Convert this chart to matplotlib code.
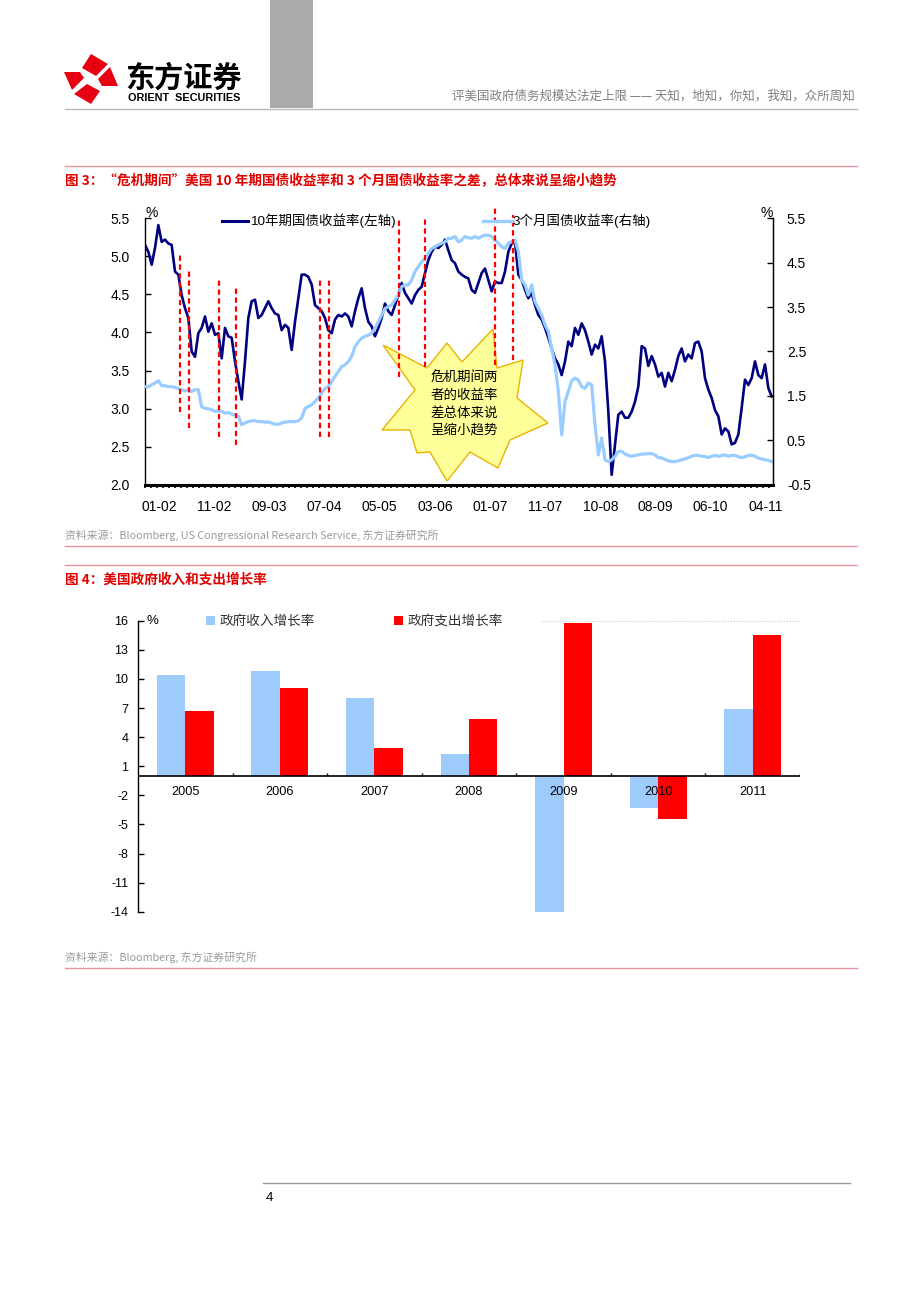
import numpy as np
import matplotlib
matplotlib.use('Agg')
import matplotlib.pyplot as plt
from matplotlib.lines import Line2D
from matplotlib.patches import Polygon, Rectangle

plt.rcParams['font.family'] = ['Liberation Sans', 'Noto Sans CJK SC', 'DejaVu Sans']
plt.rcParams['axes.unicode_minus'] = False

# ---------------- data: chart 1 (weekly-ish samples, Jan 2002 - Jun 2011) ----------------
ten_year = [
    5.15, 5.06, 4.89, 5.11, 5.41, 5.19, 5.22, 5.17, 5.15, 4.80,
    4.76, 4.49, 4.32, 4.19, 3.75, 3.68, 3.99, 4.06, 4.21, 4.01,
    4.12, 3.97, 3.99, 3.66, 4.06, 3.95, 3.93, 3.62, 3.36, 3.12,
    3.62, 4.19, 4.41, 4.43, 4.19, 4.23, 4.32, 4.41, 4.32, 4.25,
    4.23, 4.03, 4.10, 4.06, 3.77, 4.14, 4.45, 4.76, 4.76, 4.73,
    4.63, 4.36, 4.32, 4.28, 4.19, 4.03, 3.99, 4.17, 4.23, 4.21,
    4.25, 4.21, 4.08, 4.28,
    4.45, 4.58, 4.32, 4.14, 4.08, 3.95, 4.06, 4.19, 4.38, 4.28,
    4.23, 4.36, 4.49, 4.65, 4.52, 4.45, 4.38, 4.49, 4.56, 4.60,
    4.78, 4.95, 5.06, 5.13, 5.11, 5.15, 5.22, 5.08, 4.95, 4.91,
    4.80, 4.76, 4.73, 4.71, 4.56, 4.52, 4.65, 4.78, 4.84, 4.69,
    4.54, 4.67, 4.65, 4.65, 4.80, 5.06, 5.17, 5.19, 4.76, 4.69,
    4.56, 4.45, 4.52, 4.36, 4.23, 4.17, 4.06, 3.93, 3.79, 3.66,
    3.58, 3.44,
    3.62, 3.88, 3.82, 4.06, 3.97, 4.12, 4.03, 3.88, 3.71, 3.84,
    3.79, 3.95, 3.62, 2.96, 2.13, 2.53, 2.92, 2.96, 2.88, 2.88,
    2.96, 3.09, 3.29, 3.82, 3.79, 3.56, 3.69, 3.58, 3.42, 3.47,
    3.29, 3.47, 3.36, 3.51, 3.69, 3.79, 3.62, 3.71, 3.66, 3.86,
    3.88, 3.75, 3.40, 3.25, 3.14, 2.98, 2.90, 2.66, 2.74, 2.70,
    2.53, 2.55, 2.66, 3.01, 3.38, 3.31, 3.40, 3.62, 3.44, 3.40,
    3.58, 3.27, 3.16,
]
three_month = [
    1.71, 1.71, 1.75, 1.79, 1.84, 1.73, 1.73, 1.71, 1.71, 1.69,
    1.67, 1.64, 1.61, 1.64, 1.60, 1.64, 1.64, 1.26, 1.22, 1.21,
    1.19, 1.15, 1.16, 1.15, 1.11, 1.13, 1.09, 1.07, 1.04, 0.85,
    0.89, 0.92, 0.94, 0.94, 0.92, 0.92, 0.91, 0.91, 0.89, 0.86,
    0.86, 0.89, 0.91, 0.92, 0.92, 0.92, 0.94, 1.00, 1.22, 1.26,
    1.30, 1.37, 1.45, 1.56, 1.67, 1.71, 1.82, 1.94, 2.05, 2.16,
    2.20, 2.27, 2.39, 2.61,
    2.72, 2.80, 2.84, 2.87, 2.91, 3.02, 3.17, 3.32, 3.47, 3.51,
    3.55, 3.66, 3.77, 3.96, 4.00, 4.00, 4.11, 4.30, 4.41, 4.52,
    4.60, 4.71, 4.82, 4.86, 4.90, 4.94, 4.97, 5.05, 5.05, 5.09,
    4.97, 5.01, 5.09, 5.06, 5.05, 5.09, 5.05, 5.09, 5.12, 5.12,
    5.09, 5.01, 4.94, 4.86, 4.82, 4.94, 4.97, 5.01, 4.75, 4.11,
    4.00, 3.77, 4.00, 3.62, 3.47, 3.32, 3.10, 2.95, 2.57, 2.20,
    1.60, 0.62,
    1.37, 1.60, 1.84, 1.90, 1.86, 1.71, 1.67, 1.79, 1.75, 0.85,
    0.17, 0.55, 0.06, 0.02, 0.06, 0.14, 0.25, 0.25, 0.19, 0.16,
    0.14, 0.16, 0.17, 0.19, 0.19, 0.20, 0.20, 0.17, 0.11, 0.10,
    0.07, 0.04, 0.02, 0.02, 0.04, 0.06, 0.08, 0.11, 0.14, 0.16,
    0.16, 0.14, 0.14, 0.11, 0.14, 0.16, 0.14, 0.16, 0.17, 0.14,
    0.16, 0.16, 0.13, 0.11, 0.13, 0.16, 0.16, 0.14, 0.10, 0.08,
    0.06, 0.05, 0.02,
]
date_labels = ['01-02', '11-02', '09-03', '07-04', '05-05', '03-06',
               '01-07', '11-07', '10-08', '08-09', '06-10', '04-11']
# "crisis" markers: sample index, and span on the left axis
crisis_x = [10.5, 13.1, 22.2, 27.4, 52.5, 55.2, 76.2, 84.0, 105.0, 110.3]
crisis_top = [5.06, 4.85, 4.72, 4.60, 4.72, 4.72, 5.50, 5.51, 5.63, 5.54]
crisis_bottom = [2.96, 2.75, 2.63, 2.52, 2.63, 2.63, 3.42, 3.55, 3.57, 3.64]
legend1 = ['10年期国债收益率(左轴)', '3个月国债收益率(右轴)']
star_text = '危机期间两\n者的收益率\n差总体来说\n呈缩小趋势'

# ---------------- data: chart 2 ----------------
years = ['2005', '2006', '2007', '2008', '2009', '2010', '2011']
revenue_growth = [10.4, 10.8, 8.0, 2.3, -14.1, -3.3, 6.9]
spending_growth = [6.7, 9.1, 2.9, 5.9, 15.8, -4.4, 14.5]
legend2 = ['政府收入增长率', '政府支出增长率']

# ---------------- page ----------------
W, H = 920, 1302
fig = plt.figure(figsize=(W / 100, H / 100), dpi=100)
fig.patch.set_facecolor('white')


def fx(x):
    return x / W


def fy(y):
    return 1 - y / H


def ftext(x, y, s, **kw):
    fig.text(fx(x), fy(y), s, **kw)


def fline(x0, x1, y0, y1, **kw):
    fig.add_artist(Line2D([fx(x0), fx(x1)], [fy(y0), fy(y1)], transform=fig.transFigure, **kw))


CJK = ['Noto Sans CJK SC', 'Liberation Sans', 'DejaVu Sans']
RED = '#E00000'
PINK = '#E8909C'

# header
fig.add_artist(Rectangle((fx(270), fy(108)), fx(313) - fx(270), 108 / H,
                         transform=fig.transFigure, color='#ABABAB', lw=0))
# logo: four red petals forming a tilted diamond with a white cross
petals = [
    [(91, 54), (108, 64), (96, 76), (82, 68)],
    [(110, 67), (118, 86), (102, 86), (98, 79)],
    [(100, 91), (91, 104), (74, 94), (87, 84)],
    [(72, 90), (64, 72), (80, 72), (84, 78)],
]
for p in petals:
    fig.add_artist(Polygon([(fx(a), fy(b)) for a, b in p], closed=True,
                           transform=fig.transFigure, color='#E60012', lw=0))
ftext(125, 78, '东方证券', fontsize=21, fontweight='heavy', family=CJK, va='center', ha='left', color='black')
ftext(128, 98, 'ORIENT  SECURITIES', fontsize=7.8, fontweight='bold', va='center', ha='left', color='black')
ftext(855, 96, '评美国政府债务规模达法定上限 —— 天知，地知，你知，我知，众所周知',
      fontsize=9, family=CJK, color='#808080', ha='right', va='center')
fline(65, 857, 108.5, 108.5, color='#B8B8B8', lw=1)

# section 1
fline(65, 857, 166, 166, color=PINK, lw=1)
ftext(65, 181, '图 3：“危机期间”美国 10 年期国债收益率和 3 个月国债收益率之差，总体来说呈缩小趋势',
      fontsize=9.8, fontweight='bold', color=RED, family=CJK, ha='left', va='center')
ftext(65, 535, '资料来源：Bloomberg, US Congressional Research Service, 东方证券研究所',
      fontsize=7.8, color='#9A9A9A', family=CJK, ha='left', va='center')
fline(65, 857, 546, 546, color=PINK, lw=1)

# section 2
fline(65, 857, 565, 565, color=PINK, lw=1)
ftext(65, 580, '图 4：美国政府收入和支出增长率',
      fontsize=9.8, fontweight='bold', color=RED, family=CJK, ha='left', va='center')
ftext(65, 957, '资料来源：Bloomberg, 东方证券研究所',
      fontsize=7.8, color='#9A9A9A', family=CJK, ha='left', va='center')
fline(65, 857, 968, 968, color=PINK, lw=1)

# footer
fline(263, 850, 1183, 1183, color='#999999', lw=1)
ftext(266, 1198, '4', fontsize=9.5, color='black', ha='left', va='center')

# ---------------- chart 1 ----------------
top1, bot1 = 218.3, 484.7
ax1 = fig.add_axes([fx(145), fy(bot1), fx(773) - fx(145), (bot1 - top1) / H])
idx = np.arange(len(ten_year))
ax1.plot(idx, ten_year, color='#000080', lw=1.9, solid_joinstyle='round', zorder=2)
ax1.set_xlim(0, 188.4)
ax1.set_ylim(2.0, 5.5)
ax1.set_yticks(np.arange(2.0, 5.51, 0.5))
ax1.set_yticklabels([f'{v:.1f}' for v in np.arange(2.0, 5.51, 0.5)])
ax1.tick_params(axis='y', direction='in', length=4, width=1, pad=11, labelsize=10)
tick_pos = 4.2 + np.arange(len(date_labels)) * 16.55
ax1.set_xticks(tick_pos)
ax1.set_xticklabels(date_labels)
ax1.set_xticks(np.arange(0, 188.4, 1.8), minor=True)
ax1.tick_params(axis='x', which='major', length=0, pad=11, labelsize=10)
ax1.tick_params(axis='x', which='minor', direction='out', length=2.5, width=1.2)
ax1.spines['top'].set_visible(False)
ax1.spines['bottom'].set_linewidth(2.2)
ax1.spines['left'].set_linewidth(1)

ax2 = ax1.twinx()
ax2.plot(idx, three_month, color='#99CCFF', lw=2.3, solid_joinstyle='round', zorder=2)
ax2.set_ylim(-0.5, 5.5)
ax2.set_yticks(np.arange(-0.5, 5.51, 1.0))
ax2.set_yticklabels([f'{v:.1f}' for v in np.arange(-0.5, 5.51, 1.0)])
ax2.tick_params(axis='y', direction='in', length=4, width=1, pad=10, labelsize=10)
ax2.spines['top'].set_visible(False)
ax2.spines['bottom'].set_visible(False)
ax2.spines['left'].set_visible(False)
ax2.spines['right'].set_linewidth(1)

# callout star (page-pixel outline)
star_px = [(383, 345), (427, 368), (447, 343), (462, 362), (493, 329), (497, 368),
           (523, 360), (517, 398), (548, 423), (510, 440), (498, 468), (470, 452),
           (447, 481), (430, 452), (417, 453), (410, 430), (382, 430), (415, 390)]
star = Polygon([(fx(a), fy(b)) for a, b in star_px], closed=True, transform=fig.transFigure,
               facecolor='#FFFF99', edgecolor='#E8B400', lw=1, zorder=5, clip_on=False)
ax2.add_patch(star)
ax2.text(fx(464), fy(404), star_text, transform=fig.transFigure, ha='center', va='center',
         fontsize=9.7, family=CJK, linespacing=1.3, color='black', zorder=6)

for xv, y0, y1 in zip(crisis_x, crisis_bottom, crisis_top):
    ax2.plot([xv, xv], [y0, y1], transform=ax1.transData, color='#FF0000', lw=1.6,
             ls=(0, (2.4, 1.6)), zorder=8, clip_on=False)

# % signs
ftext(152, 213, '%', fontsize=10, ha='center', va='center')
ftext(767, 213, '%', fontsize=10, ha='center', va='center')

# legend 1
fline(222, 248, 220.5, 220.5, color='#000080', lw=2.2)
ftext(250, 220.5, legend1[0], fontsize=9.7, family=['Liberation Sans', 'Noto Sans CJK SC'],
      ha='left', va='center')
fline(483, 512, 220.5, 220.5, color='#99CCFF', lw=2.4)
ftext(513, 220.5, legend1[1], fontsize=9.7, family=['Liberation Sans', 'Noto Sans CJK SC'],
      ha='left', va='center')

# ---------------- chart 2 ----------------
top2, bot2 = 620.7, 911.7
ax3 = fig.add_axes([fx(138), fy(bot2), fx(800) - fx(138), (bot2 - top2) / H])
xb = np.arange(len(years))
ax3.bar(xb - 0.15, revenue_growth, width=0.3, color='#9DCBFB', zorder=2)
ax3.bar(xb + 0.15, spending_growth, width=0.3, color='#FF0000', zorder=2)
ax3.set_xlim(-0.5, 6.5)
ax3.set_ylim(-14, 16)
ax3.set_yticks(np.arange(-14, 17, 3))
ax3.tick_params(axis='y', direction='in', length=4, width=1, pad=7, labelsize=9)
ax3.set_xticks([])
for s in ['top', 'right', 'bottom']:
    ax3.spines[s].set_visible(False)
ax3.spines['left'].set_linewidth(1)
ax3.axhline(0, color='black', lw=1.2, zorder=3)
ax3.vlines(np.arange(0.5, 7, 1), 0, 0.35, color='black', lw=1, zorder=3)
ax3.axhline(16, xmin=(542 - 138) / 662, xmax=1, color='#C8C8C8', lw=0.8, ls=':', zorder=1)
for i, yl in enumerate(years):
    ax3.annotate(yl, (i, 0), xytext=(0, -7), textcoords='offset points',
                 ha='center', va='top', fontsize=9.2, zorder=4)

ftext(152, 621, '%', fontsize=9.5, ha='center', va='center')
fig.add_artist(Rectangle((fx(206), fy(625)), 9 / W, 9 / H, transform=fig.transFigure,
                         color='#9DCBFB', lw=0))
ftext(220, 620.5, legend2[0], fontsize=9.8, family=CJK, color='#333333', ha='left', va='center')
fig.add_artist(Rectangle((fx(394), fy(625)), 9 / W, 9 / H, transform=fig.transFigure,
                         color='#FF0000', lw=0))
ftext(408, 620.5, legend2[1], fontsize=9.8, family=CJK, color='#333333', ha='left', va='center')

fig.savefig('out.png', dpi=100, facecolor='white')
